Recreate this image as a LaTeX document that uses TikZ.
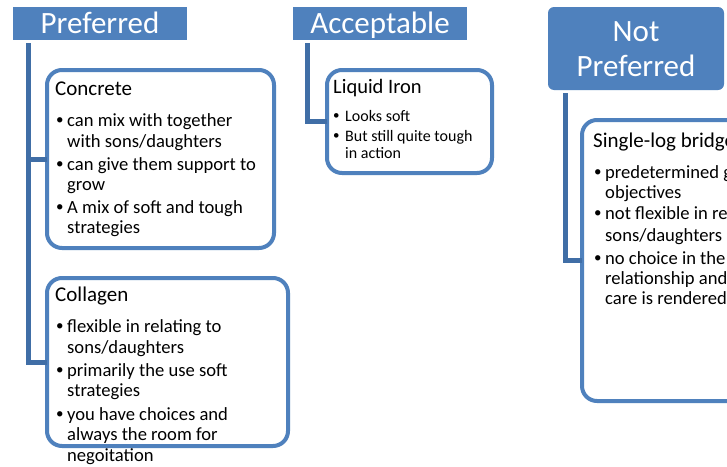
\documentclass[tikz,border=0pt]{standalone}
\usepackage{fontspec}
\setmainfont{Carlito}
\definecolor{hdrblue}{RGB}{79,129,189}
\definecolor{linkblue}{RGB}{64,110,166}
\begin{document}
\begin{tikzpicture}[x=1pt,y=-1pt,
  hdr/.style={fill=hdrblue,draw=none,inner sep=0,outer sep=0,anchor=north west},
  hdrtext/.style={text=white,inner sep=0,anchor=base,font=\fontsize{31}{34}\selectfont},
  card/.style={draw=hdrblue,line width=4pt,fill=white,rounded corners=15pt,inner sep=0,outer sep=0,anchor=north west},
  link/.style={draw=linkblue,line width=5pt},
  ttl/.style={anchor=base west,inner sep=0,font=\fontsize{21}{24}\selectfont},
  itm/.style={anchor=base west,inner sep=0,font=\fontsize{18.6}{21}\selectfont},
  bul/.style={anchor=base west,inner sep=0,font=\fontsize{15}{18}\selectfont},
  sttl/.style={anchor=base west,inner sep=0,font=\fontsize{20.5}{23}\selectfont},
  sitm/.style={anchor=base west,inner sep=0,font=\fontsize{16}{18}\selectfont},
  sbul/.style={anchor=base west,inner sep=0,font=\fontsize{13}{16}\selectfont}]
\newcommand{\bulletmark}{\raisebox{1.4pt}{\textbullet}}
\useasboundingbox (0,0) rectangle (727,466);
\clip (0,0) rectangle (727,466);
\fill[white] (0,0) rectangle (727,466);

% column headers
\node[hdr,minimum width=174pt,minimum height=33pt] (hP) at (13,7) {};
\node[hdrtext] (hPt) at (100,33) {Preferred};
\node[hdr,minimum width=174pt,minimum height=33pt] (hA) at (293,7) {};
\node[hdrtext] (hAt) at (380,33) {Acceptable};
\node[hdr,rounded corners=6pt,minimum width=176pt,minimum height=83pt] (hN) at (548,7) {};
\node[hdrtext] (hNt1) at (636,41) {Not};
\node[hdrtext] (hNt2) at (636,76) {Preferred};

% cards
\node[card,minimum width=227pt,minimum height=178pt] (bConc) at (47,70) {};
\node[card,minimum width=241pt,minimum height=168pt] (bColl) at (47,278) {};
\node[card,minimum width=165pt,minimum height=103pt] (bLiq) at (327,70) {};
\node[card,minimum width=240pt,minimum height=281pt] (bLog) at (582,120) {};

% connectors from headers to cards
\coordinate (pTop) at (28,43);
\coordinate (aTop) at (307,43);
\coordinate (nTop) at (565,93);
\draw[link] (pTop) |- (bConc.west);
\draw[link] (pTop) |- (bColl.west);
\draw[link] (aTop) |- (bLiq.west);
\draw[link] (nTop) |- (bLog.west);

% Concrete
\node[ttl] (cT) at (55,95) {Concrete};
\node[bul] (cB1) at (56,126) {\bulletmark};
\node[itm] (cL1) at (67,126) {can mix with together};
\node[itm] (cL2) at (67,147) {with sons/daughters};
\node[bul] (cB2) at (56,170) {\bulletmark};
\node[itm] (cL3) at (67,170) {can give them support to};
\node[itm] (cL4) at (67,190) {grow};
\node[bul] (cB3) at (56,213) {\bulletmark};
\node[itm] (cL5) at (67,213) {A mix of soft and tough};
\node[itm] (cL6) at (67,233) {strategies};

% Collagen
\node[ttl] (gT) at (55,301) {Collagen};
\node[bul] (gB1) at (56,332) {\bulletmark};
\node[itm] (gL1) at (67,332) {flexible in relating to};
\node[itm] (gL2) at (67,353) {sons/daughters};
\node[bul] (gB2) at (56,376) {\bulletmark};
\node[itm] (gL3) at (67,376) {primarily the use soft};
\node[itm] (gL4) at (67,396) {strategies};
\node[bul] (gB3) at (56,420) {\bulletmark};
\node[itm] (gL5) at (67,420) {you have choices and};
\node[itm] (gL6) at (67,440) {always the room for};
\node[itm] (gL7) at (67,461) {negoitation};

% Liquid Iron
\node[sttl] (lT) at (333,93) {Liquid Iron};
\node[sbul] (lB1) at (333,121) {\bulletmark};
\node[sitm] (lL1) at (345,121) {Looks soft};
\node[sbul] (lB2) at (333,141) {\bulletmark};
\node[sitm] (lL2) at (345,141) {But still quite tough};
\node[sitm] (lL3) at (345,158) {in action};

% Single-log bridge
\node[ttl] (sT) at (593,147) {Single-log bridge};
\node[bul] (sB1) at (594,178) {\bulletmark};
\node[itm] (sL1) at (605,178) {predetermined goals and};
\node[itm] (sL2) at (605,198) {objectives};
\node[bul] (sB2) at (594,219) {\bulletmark};
\node[itm] (sL3) at (605,219) {not flexible in relating to};
\node[itm] (sL4) at (605,241) {sons/daughters};
\node[bul] (sB3) at (594,264) {\bulletmark};
\node[itm] (sL5) at (605,264) {no choice in the};
\node[itm] (sL6) at (605,284) {relationship and};
\node[itm] (sL7) at (605,304) {care is rendered};
\end{tikzpicture}
\end{document}
